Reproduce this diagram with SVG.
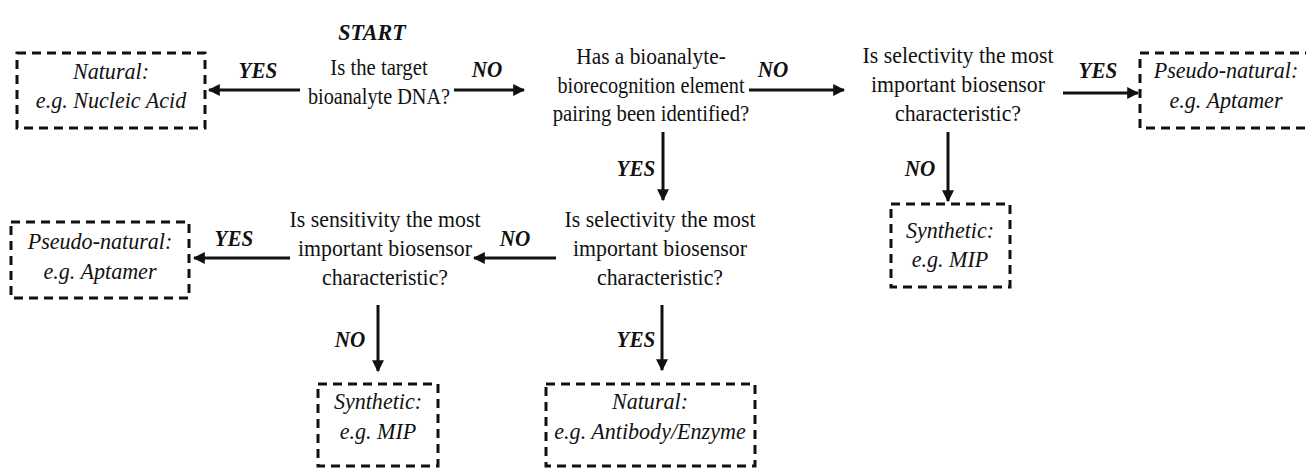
<svg xmlns="http://www.w3.org/2000/svg" width="1306" height="468" viewBox="0 0 1306 468">
<style>
text{font-family:"Liberation Serif","Times New Roman",serif;fill:#111;text-anchor:middle;font-size:23px}
.b{font-style:italic}
.l{font-style:italic;font-weight:bold}
.box{fill:none;stroke:#111;stroke-width:3;stroke-dasharray:9 6}
.c{stroke:#111;stroke-width:3;fill:none;marker-end:url(#ah)}
</style>
<defs>
<marker id="ah" viewBox="0 0 10 10" refX="9" refY="5" markerWidth="4" markerHeight="4" orient="auto" markerUnits="strokeWidth">
<path d="M0,0 L10,5 L0,10 z" fill="#111"/>
</marker>
</defs>
<rect width="1306" height="468" fill="#fff"/>
<g id="connectors">
<line class="c" x1="300" y1="90" x2="209" y2="90"/>
<line class="c" x1="454" y1="90" x2="524" y2="90"/>
<line class="c" x1="749" y1="90" x2="844" y2="90"/>
<line class="c" x1="1063" y1="93" x2="1138" y2="93"/>
<line class="c" x1="663" y1="132" x2="663" y2="200"/>
<line class="c" x1="948" y1="132" x2="948" y2="201"/>
<line class="c" x1="556" y1="258" x2="474" y2="258"/>
<line class="c" x1="290" y1="258" x2="194" y2="258"/>
<line class="c" x1="378" y1="305" x2="378" y2="371"/>
<line class="c" x1="662" y1="305" x2="662" y2="370"/>
<text class="l" transform="translate(258 78) scale(0.92 1)">YES</text>
<text class="l" transform="translate(487 77) scale(0.92 1)">NO</text>
<text class="l" transform="translate(773 77) scale(0.92 1)">NO</text>
<text class="l" transform="translate(1098 78) scale(0.92 1)">YES</text>
<text class="l" transform="translate(636 176) scale(0.92 1)">YES</text>
<text class="l" transform="translate(920 176) scale(0.92 1)">NO</text>
<text class="l" transform="translate(515 246) scale(0.92 1)">NO</text>
<text class="l" transform="translate(234 246) scale(0.92 1)">YES</text>
<text class="l" transform="translate(350 347) scale(0.92 1)">NO</text>
<text class="l" transform="translate(636 347) scale(0.92 1)">YES</text>
</g>
<g id="start">
<text class="l" transform="translate(372 40) scale(0.92 1)" style="font-size:24px">START</text>
</g>
<g id="q1">
<text transform="translate(379 75) scale(0.9 1)">Is the target</text>
<text transform="translate(379 104) scale(0.88 1)">bioanalyte DNA?</text>
</g>
<g id="q2">
<text transform="translate(651 64) scale(0.93 1)">Has a bioanalyte-</text>
<text transform="translate(651 93) scale(0.88 1)">biorecognition element</text>
<text transform="translate(651 121) scale(0.9 1)">pairing been identified?</text>
</g>
<g id="q3">
<text transform="translate(958 63) scale(0.95 1)">Is selectivity the most</text>
<text transform="translate(958 92) scale(0.95 1)">important biosensor</text>
<text transform="translate(958 121) scale(0.95 1)">characteristic?</text>
</g>
<g id="q4">
<text transform="translate(660 227) scale(0.95 1)">Is selectivity the most</text>
<text transform="translate(660 256) scale(0.95 1)">important biosensor</text>
<text transform="translate(660 285) scale(0.95 1)">characteristic?</text>
</g>
<g id="q5">
<text transform="translate(385 227) scale(0.95 1)">Is sensitivity the most</text>
<text transform="translate(385 256) scale(0.95 1)">important biosensor</text>
<text transform="translate(385 285) scale(0.95 1)">characteristic?</text>
</g>
<g id="box-natural-nucleic">
<rect class="box" x="17" y="53" width="188" height="75"/>
<text class="b" transform="translate(111 79) scale(0.96 1)">Natural:</text>
<text class="b" transform="translate(111 108) scale(0.96 1)">e.g. Nucleic Acid</text>
</g>
<g id="box-pseudo-top">
<rect class="box" x="1140" y="53" width="180" height="75"/>
<text class="b" transform="translate(1226 78) scale(0.96 1)">Pseudo-natural:</text>
<text class="b" transform="translate(1226 108) scale(0.96 1)">e.g. Aptamer</text>
</g>
<g id="box-synthetic-right">
<rect class="box" x="891" y="204" width="119" height="83"/>
<text class="b" transform="translate(950 238) scale(0.96 1)">Synthetic:</text>
<text class="b" transform="translate(950 267) scale(0.96 1)">e.g. MIP</text>
</g>
<g id="box-pseudo-left">
<rect class="box" x="11" y="222" width="178" height="76"/>
<text class="b" transform="translate(100 249) scale(0.96 1)">Pseudo-natural:</text>
<text class="b" transform="translate(100 279) scale(0.96 1)">e.g. Aptamer</text>
</g>
<g id="box-synthetic-bottom">
<rect class="box" x="318" y="384" width="120" height="82"/>
<text class="b" transform="translate(378 409) scale(0.96 1)">Synthetic:</text>
<text class="b" transform="translate(378 439) scale(0.96 1)">e.g. MIP</text>
</g>
<g id="box-natural-antibody">
<rect class="box" x="546" y="384" width="209" height="82"/>
<text class="b" transform="translate(650 409) scale(0.96 1)">Natural:</text>
<text class="b" transform="translate(650 439) scale(0.96 1)">e.g. Antibody/Enzyme</text>
</g>
</svg>
